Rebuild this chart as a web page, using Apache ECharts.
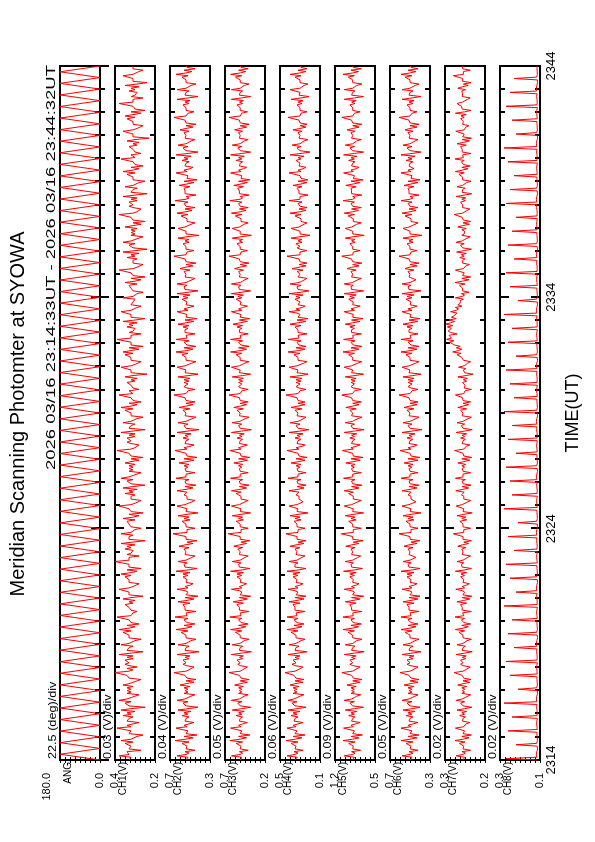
<!DOCTYPE html>
<html>
<head>
<meta charset="utf-8">
<script src="https://cdn.jsdelivr.net/npm/echarts@6/dist/echarts.min.js"></script>
<style>
html,body{margin:0;padding:0;background:#fff;overflow:hidden;}
#wrap{position:absolute;left:0;top:0;width:595px;height:842px;overflow:hidden;background:#fff;}
#chart{position:absolute;left:0;top:0;width:842px;height:595px;transform-origin:0 0;transform:translateY(842px) rotate(-90deg);}
</style>
</head>
<body>
<div id="wrap"><div id="chart"></div></div>
<script>
// ---------- data ----------
const titleText = 'Meridian Scanning Photomter at SYOWA';
const headerText = '2026 03/16 23:14:33UT - 2026 03/16 23:44:32UT';
const timeAxisName = 'TIME(UT)';
const timeLabels = ['2314', '2324', '2334', '2344'];   // HHMM at 0,10,20,30 min after 23:14 UT
const timeStartMin = 0, timeEndMin = 30;
const chanStepMin = 0.06;  // channel sample spacing (minutes)
const angStepMin = 0.25;   // scan-angle turning points spacing (minutes)

const panelNames = ['ANG', 'CH1(V)', 'CH2(V)', 'CH3(V)', 'CH4(V)', 'CH5(V)', 'CH6(V)', 'CH7(V)', 'CH8(V)'];
const divTexts = ['22.5 (deg)/div', '0.03 (V)/div', '0.04 (V)/div', '0.05 (V)/div', '0.06 (V)/div', '0.09 (V)/div', '0.05 (V)/div', '0.02 (V)/div', '0.02 (V)/div'];
const axisMin = [0, 0.2, 0.3, 0.2, 0.1, 0.5, 0.3, 0.2, 0.1];
const axisMax = [180, 0.4, 0.7, 0.7, 0.5, 1.2, 0.7, 0.3, 0.3];
const topLabels = ['180.0', '0.4', '0.7', '0.7', '0.5', '1.2', '0.7', '0.3', '0.3'];
const bottomLabels = ['0.0', '0.2', '0.3', '0.2', '0.1', '0.5', '0.3', '0.2', '0.1'];

const ang = [
0,180,0,180,0,180,0,180,0,180,0,180,0,180,0,180,0,180,0,180,
0,180,0,180,0,180,0,180,0,180,0,180,0,180,0,180,0,180,0,180,
0,180,0,180,0,180,0,180,0,180,0,180,0,180,0,180,0,180,0,180,
0,180,0,180,0,180,0,180,0,180,0,180,0,180,0,180,0,180,0,180,
0,180,0,180,0,180,0,180,0,180,0,180,0,180,0,180,0,180,0,180,
0,180,0,180,0,180,0,180,0,180,0,180,0,180,0,180,0,180,0,180,0];

const ch1 = [
.33,.34,.32,.38,.33,.32,.34,.27,.33,.34,
.32,.33,.35,.31,.37,.32,.33,.29,.26,.33,
.34,.32,.33,.39,.32,.34,.31,.28,.34,.33,
.33,.31,.36,.32,.34,.30,.37,.32,.25,.33,
.33,.35,.32,.38,.34,.32,.30,.28,.34,.32,
.34,.32,.34,.31,.36,.33,.32,.29,.27,.33,
.32,.34,.33,.40,.33,.31,.34,.29,.33,.35,
.33,.32,.35,.31,.34,.31,.38,.32,.26,.34,
.34,.33,.31,.37,.33,.34,.30,.27,.33,.34,
.33,.34,.36,.32,.38,.33,.30,.34,.28,.32,
.32,.33,.34,.39,.32,.33,.31,.29,.32,.33,
.33,.32,.35,.31,.33,.30,.36,.32,.26,.33,
.34,.33,.32,.38,.33,.31,.31,.28,.33,.34,
.33,.34,.35,.32,.37,.32,.29,.34,.27,.33,
.32,.33,.34,.40,.33,.32,.33,.28,.34,.32,
.33,.31,.35,.32,.34,.30,.37,.31,.25,.33,
.32,.33,.31,.37,.32,.31,.30,.27,.32,.33,
.33,.32,.34,.30,.36,.31,.28,.33,.26,.32,
.31,.33,.32,.38,.32,.30,.31,.27,.32,.33,
.32,.30,.35,.31,.33,.29,.36,.31,.25,.32,
.32,.34,.31,.37,.33,.31,.29,.27,.33,.31,
.33,.31,.33,.30,.35,.32,.28,.32,.26,.32,
.31,.33,.32,.39,.32,.30,.31,.28,.32,.34,
.32,.31,.34,.30,.33,.30,.37,.31,.25,.33,
.33,.32,.30,.36,.32,.33,.29,.26,.32,.33,
.32,.33,.35,.31,.37,.32,.29,.33,.27,.31,
.31,.32,.33,.38,.31,.32,.33,.28,.31,.32,
.32,.31,.34,.30,.32,.29,.35,.31,.24,.32,
.33,.32,.31,.37,.32,.30,.30,.27,.32,.33,
.32,.33,.35,.31,.36,.32,.28,.33,.26,.32,
.31,.32,.33,.39,.32,.31,.32,.27,.33,.31,
.32,.30,.34,.31,.33,.29,.36,.30,.25,.32,
.33,.32,.31,.37,.32,.31,.29,.27,.32,.33,
.31,.32,.30,.36,.31,.30,.29,.26,.31,.32,
.32,.31,.33,.29,.35,.30,.27,.32,.25,.31,
.30,.32,.31,.38,.31,.29,.30,.26,.31,.32,
.31,.29,.34,.30,.32,.28,.36,.30,.24,.31,
.31,.33,.30,.36,.32,.30,.28,.26,.32,.30,
.32,.30,.32,.29,.35,.31,.27,.31,.25,.31,
.30,.32,.31,.38,.31,.29,.30,.27,.31,.33,
.31,.30,.33,.29,.32,.29,.36,.30,.24,.32,
.32,.31,.29,.35,.31,.32,.28,.25,.31,.32,
.31,.32,.34,.30,.36,.31,.28,.32,.26,.30,
.30,.31,.32,.37,.30,.31,.32,.27,.30,.31,
.31,.30,.33,.29,.31,.28,.34,.30,.23,.31,
.32,.31,.30,.36,.31,.29,.29,.26,.31,.32,
.31,.32,.34,.30,.35,.31,.27,.32,.25,.30,
.30,.31,.32,.38,.31,.30,.31,.26,.32,.30,
.31,.29,.33,.30,.32,.28,.35,.29,.24,.31,
.32,.31,.30,.36,.31,.30,.28,.26,.31,.32,.31];

const ch2 = [
.54,.56,.52,.63,.54,.51,.55,.45,.54,.56,
.53,.55,.58,.51,.65,.54,.47,.56,.43,.54,
.55,.52,.54,.64,.53,.56,.51,.46,.55,.53,
.54,.51,.58,.52,.56,.49,.62,.52,.42,.54,
.54,.57,.52,.63,.55,.52,.49,.45,.56,.52,
.55,.52,.56,.50,.60,.54,.46,.54,.44,.53,
.52,.55,.54,.66,.54,.51,.52,.46,.54,.57,
.54,.52,.57,.51,.55,.50,.63,.52,.41,.55,
.55,.54,.51,.62,.54,.56,.49,.44,.54,.56,
.54,.55,.59,.52,.64,.54,.48,.56,.45,.53,
.53,.56,.52,.65,.53,.52,.54,.44,.55,.54,
.55,.53,.57,.50,.62,.53,.46,.55,.42,.54,
.54,.52,.55,.63,.52,.55,.50,.47,.54,.53,
.53,.51,.57,.52,.57,.50,.64,.51,.43,.55,
.55,.56,.53,.62,.54,.52,.48,.45,.55,.53,
.54,.53,.56,.51,.61,.55,.47,.53,.43,.54,
.52,.54,.55,.67,.53,.52,.53,.45,.54,.56,
.54,.53,.58,.50,.56,.51,.62,.53,.42,.54,
.55,.53,.52,.63,.55,.55,.48,.45,.53,.55,
.53,.56,.58,.53,.63,.54,.47,.55,.44,.54,
.54,.55,.51,.64,.54,.52,.54,.45,.54,.55,
.55,.52,.56,.51,.61,.53,.46,.56,.43,.53,
.53,.54,.53,.65,.53,.56,.50,.46,.55,.54,
.54,.51,.57,.52,.55,.49,.63,.52,.41,.54,
.55,.56,.52,.62,.54,.51,.49,.44,.55,.53,
.54,.53,.57,.50,.61,.54,.47,.54,.45,.54,
.53,.55,.54,.66,.54,.52,.52,.45,.53,.56,
.54,.52,.56,.51,.56,.50,.62,.51,.42,.55,
.55,.54,.52,.63,.55,.55,.48,.44,.54,.55,
.54,.55,.58,.52,.64,.53,.47,.56,.44,.53,
.53,.56,.51,.64,.53,.52,.54,.45,.55,.54,
.55,.52,.57,.51,.62,.54,.46,.55,.43,.54,
.54,.53,.55,.63,.52,.56,.51,.46,.54,.53,
.53,.51,.58,.52,.57,.50,.63,.52,.42,.55,
.55,.56,.53,.63,.54,.51,.48,.45,.55,.53,
.54,.53,.56,.50,.60,.55,.47,.54,.44,.54,
.52,.55,.54,.66,.54,.52,.53,.46,.54,.56,
.54,.52,.57,.51,.55,.51,.62,.53,.41,.54,
.55,.54,.52,.62,.55,.55,.49,.45,.53,.55,
.53,.55,.59,.52,.63,.54,.48,.55,.45,.54,
.54,.56,.52,.65,.54,.51,.54,.44,.55,.54,
.55,.53,.56,.50,.61,.53,.46,.56,.43,.53,
.53,.52,.54,.64,.53,.56,.50,.47,.55,.54,
.54,.51,.58,.52,.56,.49,.64,.52,.42,.54,
.55,.57,.52,.62,.54,.52,.49,.45,.55,.53,
.54,.52,.56,.51,.60,.54,.47,.54,.44,.54,
.52,.55,.54,.66,.54,.52,.52,.46,.54,.56,
.54,.53,.57,.51,.55,.50,.63,.52,.42,.55,
.55,.54,.51,.63,.54,.56,.49,.44,.54,.55,
.54,.55,.58,.52,.64,.54,.48,.56,.45,.53,.54];

const ch3 = [
.51,.53,.49,.62,.51,.48,.52,.41,.51,.53,
.50,.52,.56,.48,.64,.51,.43,.53,.39,.51,
.52,.49,.51,.63,.50,.53,.48,.42,.52,.50,
.51,.48,.56,.49,.53,.46,.61,.49,.38,.51,
.51,.54,.49,.62,.52,.49,.46,.41,.53,.49,
.52,.49,.53,.47,.58,.51,.42,.51,.40,.50,
.49,.52,.51,.65,.51,.48,.49,.42,.51,.54,
.51,.49,.55,.48,.52,.47,.62,.49,.37,.52,
.52,.51,.48,.61,.51,.53,.46,.40,.51,.53,
.51,.52,.57,.49,.63,.51,.44,.53,.41,.50,
.50,.53,.49,.64,.50,.49,.51,.40,.52,.51,
.52,.50,.55,.47,.60,.50,.42,.52,.38,.51,
.51,.49,.52,.62,.49,.52,.47,.43,.51,.50,
.50,.48,.55,.49,.55,.47,.63,.48,.39,.52,
.52,.53,.50,.61,.51,.49,.45,.41,.52,.50,
.51,.50,.54,.48,.59,.52,.43,.50,.39,.51,
.49,.51,.52,.66,.50,.49,.50,.41,.51,.53,
.51,.50,.56,.47,.53,.48,.61,.50,.38,.51,
.52,.50,.49,.62,.52,.52,.45,.41,.50,.52,
.50,.53,.56,.50,.62,.51,.43,.52,.40,.51,
.51,.52,.48,.63,.51,.49,.51,.41,.51,.52,
.52,.49,.53,.48,.59,.50,.42,.53,.39,.50,
.50,.51,.50,.64,.50,.53,.47,.42,.52,.51,
.51,.48,.55,.49,.52,.46,.62,.49,.37,.51,
.52,.53,.49,.61,.51,.48,.46,.40,.52,.50,
.51,.50,.55,.47,.59,.51,.43,.51,.41,.51,
.50,.52,.51,.65,.51,.49,.49,.41,.50,.53,
.51,.49,.53,.48,.53,.47,.61,.48,.38,.52,
.52,.51,.49,.62,.52,.52,.45,.40,.51,.52,
.51,.52,.56,.49,.63,.50,.43,.53,.40,.50,
.50,.53,.48,.63,.50,.49,.51,.41,.52,.51,
.52,.49,.55,.48,.60,.51,.42,.52,.39,.51,
.51,.50,.52,.62,.49,.53,.48,.42,.51,.50,
.50,.48,.56,.49,.54,.47,.62,.49,.38,.52,
.52,.53,.50,.62,.51,.48,.45,.41,.52,.50,
.51,.50,.53,.47,.58,.52,.43,.51,.40,.51,
.49,.52,.51,.65,.51,.49,.50,.42,.51,.53,
.51,.49,.55,.48,.52,.48,.61,.50,.37,.51,
.52,.51,.49,.61,.52,.52,.46,.41,.50,.52,
.50,.52,.57,.49,.62,.51,.44,.52,.41,.51,
.51,.53,.49,.64,.51,.48,.51,.40,.52,.51,
.52,.50,.54,.47,.59,.50,.42,.53,.39,.50,
.50,.49,.51,.63,.50,.53,.47,.43,.52,.51,
.51,.48,.56,.49,.53,.46,.63,.49,.38,.51,
.52,.54,.49,.61,.51,.49,.46,.41,.52,.50,
.51,.49,.53,.48,.58,.51,.43,.51,.40,.51,
.49,.52,.51,.65,.51,.49,.49,.42,.51,.53,
.51,.50,.55,.48,.52,.47,.62,.49,.38,.52,
.52,.51,.48,.62,.51,.53,.46,.40,.51,.52,
.51,.52,.57,.49,.63,.51,.44,.53,.41,.50,.51];

const ch4 = [
.35,.37,.33,.43,.35,.32,.36,.27,.35,.37,
.34,.36,.39,.32,.44,.35,.28,.37,.25,.35,
.36,.33,.35,.43,.34,.37,.32,.27,.36,.34,
.35,.32,.39,.33,.37,.30,.42,.33,.24,.35,
.35,.38,.33,.42,.36,.33,.30,.26,.37,.33,
.36,.33,.37,.31,.40,.35,.27,.35,.26,.34,
.33,.36,.35,.45,.35,.32,.33,.27,.35,.38,
.34,.32,.37,.31,.35,.30,.42,.32,.23,.35,
.35,.34,.31,.41,.34,.36,.29,.25,.34,.36,
.34,.35,.39,.32,.43,.34,.28,.36,.26,.33,
.33,.36,.32,.43,.33,.32,.34,.25,.35,.34,
.35,.33,.37,.30,.41,.33,.26,.35,.24,.34,
.34,.32,.35,.42,.32,.35,.30,.27,.34,.33,
.33,.31,.37,.32,.37,.30,.43,.31,.24,.35,
.34,.35,.32,.41,.33,.31,.28,.25,.34,.32,
.33,.32,.35,.30,.40,.34,.26,.32,.24,.33,
.31,.33,.34,.44,.32,.31,.32,.25,.33,.35,
.33,.32,.36,.29,.35,.30,.40,.32,.22,.33,
.33,.32,.30,.41,.33,.33,.27,.25,.31,.33,
.31,.34,.36,.31,.41,.32,.26,.33,.24,.32,
.32,.33,.29,.42,.32,.30,.32,.24,.32,.33,
.33,.30,.34,.29,.39,.31,.25,.34,.23,.31,
.31,.32,.31,.43,.31,.34,.28,.25,.33,.32,
.32,.29,.35,.30,.33,.27,.41,.30,.21,.32,
.33,.34,.30,.40,.32,.29,.27,.24,.33,.31,
.32,.31,.35,.28,.39,.32,.25,.32,.25,.32,
.31,.33,.32,.44,.32,.30,.30,.24,.31,.34,
.32,.30,.34,.29,.34,.28,.40,.29,.22,.33,
.33,.32,.30,.41,.33,.33,.26,.23,.32,.33,
.32,.33,.36,.30,.42,.31,.25,.34,.24,.31,
.31,.33,.29,.42,.31,.30,.32,.23,.32,.32,
.32,.30,.35,.29,.40,.32,.24,.33,.22,.32,
.31,.30,.33,.41,.30,.34,.28,.25,.32,.31,
.30,.28,.35,.30,.34,.27,.41,.29,.21,.32,
.31,.33,.29,.40,.31,.28,.26,.23,.32,.30,
.30,.31,.33,.27,.38,.31,.24,.31,.23,.30,
.29,.31,.31,.43,.30,.29,.30,.23,.30,.33,
.30,.29,.34,.28,.32,.28,.39,.30,.20,.30,
.31,.30,.29,.39,.31,.31,.26,.23,.29,.31,
.29,.31,.35,.29,.40,.30,.24,.31,.23,.30,
.30,.32,.28,.41,.30,.28,.30,.22,.31,.30,
.31,.29,.33,.28,.37,.29,.23,.32,.22,.29,
.29,.30,.30,.41,.29,.32,.27,.24,.31,.30,
.30,.28,.34,.29,.32,.26,.40,.29,.20,.30,
.31,.33,.29,.38,.30,.29,.26,.22,.31,.29,
.30,.29,.32,.28,.37,.30,.24,.30,.23,.30,
.29,.31,.30,.42,.30,.29,.29,.23,.30,.32,
.30,.29,.33,.28,.32,.27,.39,.29,.21,.31,
.31,.30,.28,.40,.30,.31,.26,.22,.30,.31,
.30,.31,.35,.29,.40,.30,.24,.32,.23,.29,.30];

const ch5 = [
.89,.92,.86,1.04,.89,.85,.91,.75,.89,.92,
.88,.91,.96,.85,1.06,.89,.78,.92,.72,.89,
.91,.86,.89,1.05,.88,.92,.84,.76,.91,.88,
.89,.85,.96,.86,.92,.82,1.02,.86,.70,.89,
.89,.94,.86,1.04,.91,.86,.82,.75,.92,.86,
.91,.86,.92,.83,.99,.89,.76,.89,.73,.88,
.86,.91,.89,1.08,.89,.85,.86,.76,.89,.94,
.89,.86,.94,.85,.91,.83,1.04,.86,.69,.91,
.91,.89,.85,1.02,.89,.92,.82,.73,.89,.92,
.89,.91,.97,.86,1.06,.89,.79,.92,.74,.88,
.88,.92,.86,1.06,.88,.86,.89,.73,.91,.89,
.91,.88,.94,.83,1.02,.88,.76,.91,.70,.89,
.89,.86,.91,1.04,.86,.91,.83,.78,.89,.88,
.88,.85,.94,.86,.94,.83,1.05,.85,.72,.91,
.91,.92,.88,1.02,.89,.86,.80,.75,.91,.88,
.89,.88,.92,.85,1.01,.91,.78,.88,.71,.89,
.86,.89,.91,1.09,.88,.86,.88,.74,.89,.92,
.89,.88,.96,.83,.92,.85,1.02,.88,.70,.89,
.91,.88,.86,1.04,.91,.91,.80,.74,.88,.91,
.88,.92,.96,.88,1.04,.89,.78,.91,.73,.89,
.89,.91,.85,1.05,.89,.86,.89,.74,.89,.91,
.91,.86,.92,.85,1.01,.88,.76,.92,.71,.88,
.88,.89,.88,1.07,.88,.92,.83,.76,.91,.89,
.89,.85,.94,.86,.91,.82,1.04,.86,.69,.89,
.91,.92,.86,1.02,.89,.85,.82,.73,.91,.88,
.89,.88,.94,.83,1.01,.89,.78,.89,.74,.89,
.88,.91,.89,1.08,.89,.86,.86,.74,.88,.92,
.89,.86,.92,.85,.92,.83,1.02,.85,.70,.91,
.91,.89,.86,1.04,.91,.91,.80,.73,.89,.91,
.89,.91,.96,.86,1.06,.88,.78,.92,.73,.88,
.88,.92,.85,1.05,.88,.86,.89,.74,.91,.89,
.91,.86,.94,.85,1.02,.89,.76,.91,.71,.89,
.89,.88,.91,1.04,.86,.92,.84,.76,.89,.88,
.88,.85,.96,.86,.94,.83,1.04,.86,.70,.91,
.91,.92,.88,1.04,.89,.85,.80,.74,.91,.88,
.89,.88,.92,.83,.99,.91,.78,.89,.73,.89,
.86,.91,.89,1.08,.89,.86,.88,.76,.89,.92,
.89,.86,.94,.85,.91,.85,1.02,.88,.69,.89,
.91,.89,.86,1.02,.91,.91,.82,.74,.88,.91,
.88,.91,.97,.86,1.04,.89,.79,.91,.74,.89,
.89,.92,.86,1.06,.89,.85,.89,.73,.91,.89,
.91,.88,.92,.83,1.01,.88,.76,.92,.71,.88,
.88,.86,.89,1.05,.88,.92,.83,.78,.91,.89,
.89,.85,.96,.86,.92,.82,1.05,.86,.70,.89,
.91,.94,.86,1.02,.89,.86,.82,.74,.91,.88,
.89,.86,.92,.85,.99,.89,.78,.89,.73,.89,
.86,.91,.89,1.08,.89,.86,.86,.76,.89,.92,
.89,.88,.94,.85,.91,.83,1.04,.86,.70,.91,
.91,.89,.85,1.04,.89,.92,.82,.73,.89,.91,
.89,.91,.97,.86,1.06,.89,.79,.92,.74,.88,.89];

const ch6 = [
.50,.52,.48,.58,.50,.47,.51,.42,.50,.52,
.49,.51,.54,.47,.59,.50,.43,.52,.41,.50,
.51,.48,.50,.59,.49,.52,.47,.42,.51,.49,
.50,.47,.54,.48,.52,.45,.57,.48,.40,.50,
.50,.53,.48,.58,.51,.48,.45,.42,.52,.48,
.51,.48,.52,.46,.56,.50,.42,.50,.41,.49,
.48,.51,.50,.60,.50,.47,.48,.42,.50,.53,
.50,.48,.53,.47,.51,.46,.58,.48,.39,.51,
.51,.50,.47,.57,.50,.52,.45,.41,.50,.52,
.50,.51,.55,.48,.59,.50,.44,.52,.42,.49,
.49,.52,.48,.59,.49,.48,.50,.41,.51,.50,
.51,.49,.53,.46,.57,.49,.42,.51,.40,.50,
.50,.48,.51,.58,.48,.51,.46,.43,.50,.49,
.49,.47,.53,.48,.53,.46,.59,.47,.40,.51,
.51,.52,.49,.57,.50,.48,.44,.42,.51,.49,
.50,.49,.52,.47,.56,.51,.43,.49,.40,.50,
.48,.50,.51,.61,.49,.48,.49,.42,.50,.52,
.50,.49,.54,.46,.52,.47,.57,.49,.39,.50,
.51,.49,.48,.58,.51,.51,.44,.42,.49,.51,
.49,.52,.54,.49,.58,.50,.43,.51,.41,.50,
.50,.51,.47,.59,.50,.48,.50,.42,.50,.51,
.51,.48,.52,.47,.56,.49,.42,.52,.40,.49,
.49,.50,.49,.60,.49,.52,.46,.43,.51,.50,
.50,.47,.53,.48,.51,.45,.58,.48,.38,.50,
.51,.52,.48,.57,.50,.47,.45,.41,.51,.49,
.50,.49,.53,.46,.56,.50,.43,.50,.42,.50,
.49,.51,.50,.61,.50,.48,.48,.42,.49,.52,
.50,.48,.52,.47,.52,.46,.57,.47,.39,.51,
.51,.50,.48,.58,.51,.51,.44,.41,.50,.51,
.50,.51,.54,.48,.59,.49,.43,.52,.41,.49,
.49,.52,.47,.59,.49,.48,.50,.42,.51,.50,
.51,.48,.53,.47,.57,.50,.42,.51,.40,.50,
.50,.49,.51,.58,.48,.52,.47,.43,.50,.49,
.49,.47,.54,.48,.53,.46,.58,.48,.39,.51,
.51,.52,.49,.58,.50,.47,.44,.42,.51,.49,
.50,.49,.52,.46,.55,.51,.43,.50,.41,.50,
.48,.51,.50,.61,.50,.48,.49,.43,.50,.52,
.50,.48,.53,.47,.51,.47,.57,.49,.38,.50,
.51,.50,.48,.57,.51,.51,.45,.42,.49,.51,
.49,.51,.55,.48,.58,.50,.44,.51,.42,.50,
.50,.52,.48,.59,.50,.47,.50,.41,.51,.50,
.51,.49,.52,.46,.56,.49,.42,.52,.40,.49,
.49,.48,.50,.59,.49,.52,.46,.44,.51,.50,
.50,.47,.54,.48,.52,.45,.59,.48,.39,.50,
.51,.53,.48,.57,.50,.48,.45,.42,.51,.49,
.50,.48,.52,.47,.55,.50,.43,.50,.41,.50,
.48,.51,.50,.61,.50,.48,.48,.43,.50,.52,
.50,.49,.53,.47,.51,.46,.58,.48,.39,.51,
.51,.50,.47,.58,.50,.52,.45,.41,.50,.51,
.50,.51,.55,.48,.59,.50,.44,.52,.42,.49,.50];

const ch7 = [
.255,.259,.251,.272,.255,.249,.257,.236,.255,.259,
.253,.257,.264,.250,.275,.255,.240,.258,.234,.255,
.257,.251,.255,.274,.253,.258,.248,.238,.256,.253,
.255,.249,.263,.251,.258,.246,.270,.251,.233,.255,
.255,.261,.251,.272,.257,.250,.246,.236,.258,.251,
.257,.250,.258,.246,.268,.255,.238,.255,.235,.253,
.251,.257,.255,.277,.255,.249,.252,.237,.255,.261,
.255,.250,.261,.248,.257,.247,.272,.251,.232,.257,
.257,.255,.249,.270,.255,.258,.245,.234,.255,.258,
.255,.257,.265,.251,.274,.255,.242,.258,.236,.253,
.253,.259,.251,.275,.253,.250,.256,.234,.257,.255,
.257,.253,.261,.246,.270,.253,.238,.257,.233,.255,
.255,.251,.257,.273,.251,.257,.247,.239,.255,.253,
.253,.249,.261,.251,.260,.246,.274,.250,.234,.257,
.257,.259,.253,.270,.255,.250,.243,.236,.257,.253,
.255,.253,.258,.248,.268,.257,.241,.253,.234,.255,
.251,.255,.257,.279,.253,.250,.253,.236,.255,.259,
.255,.253,.263,.246,.258,.248,.270,.253,.232,.255,
.257,.253,.251,.272,.257,.257,.243,.236,.253,.257,
.253,.259,.263,.252,.273,.255,.241,.257,.235,.255,
.255,.257,.249,.274,.255,.250,.255,.236,.255,.257,
.257,.251,.258,.248,.268,.253,.238,.258,.233,.253,
.253,.255,.253,.276,.253,.258,.247,.238,.257,.255,
.255,.249,.261,.251,.257,.246,.272,.251,.232,.255,
.257,.259,.251,.270,.255,.249,.245,.234,.257,.253,
.255,.253,.261,.246,.268,.255,.241,.255,.236,.255,
.252,.256,.253,.274,.253,.249,.250,.234,.252,.256,
.250,.247,.256,.246,.254,.244,.268,.247,.230,.251,
.251,.254,.248,.266,.252,.250,.243,.236,.254,.256,
.258,.262,.270,.260,.281,.266,.258,.272,.262,.276,
.282,.288,.278,.296,.284,.280,.290,.270,.286,.292,
.288,.284,.294,.280,.298,.286,.276,.290,.272,.284,
.278,.282,.270,.286,.272,.266,.274,.258,.268,.262,
.258,.262,.254,.274,.257,.251,.259,.240,.256,.259,
.256,.259,.264,.250,.275,.256,.240,.258,.236,.256,
.257,.252,.256,.274,.254,.258,.248,.239,.256,.254,
.256,.250,.263,.252,.259,.247,.271,.252,.234,.256,
.256,.261,.252,.272,.257,.251,.246,.237,.258,.252,
.257,.251,.258,.247,.268,.256,.239,.255,.236,.254,
.252,.257,.256,.277,.256,.250,.253,.238,.256,.261,
.256,.251,.261,.249,.258,.248,.272,.252,.233,.257,
.257,.256,.250,.270,.256,.258,.246,.235,.256,.258,
.256,.257,.265,.252,.274,.256,.243,.258,.237,.254,
.254,.259,.252,.275,.254,.251,.256,.235,.257,.256,
.257,.254,.261,.247,.270,.254,.239,.257,.234,.256,
.256,.252,.257,.273,.252,.257,.248,.240,.256,.254,
.254,.250,.261,.252,.260,.247,.274,.251,.235,.257,
.257,.259,.254,.270,.256,.251,.244,.237,.257,.254,
.256,.254,.258,.249,.268,.257,.242,.254,.235,.256,
.252,.256,.257,.279,.254,.251,.254,.237,.256,.259,.256];

const ch8 = [
.115,.27,.116,.113,.118,.114,.116,.115,.112,.117,
.114,.22,.117,.115,.113,.116,.114,.117,.115,.113,
.116,.26,.114,.117,.115,.113,.117,.114,.116,.115,
.113,.24,.115,.116,.114,.117,.115,.113,.117,.114,
.115,.28,.116,.113,.118,.114,.116,.115,.112,.117,
.114,.21,.117,.115,.113,.116,.114,.117,.115,.113,
.116,.25,.114,.117,.115,.113,.117,.114,.116,.115,
.113,.27,.115,.116,.114,.117,.115,.113,.117,.114,
.115,.23,.116,.113,.118,.114,.116,.115,.112,.117,
.114,.26,.117,.115,.113,.116,.114,.117,.115,.113,
.116,.24,.114,.117,.115,.113,.117,.114,.116,.115,
.113,.28,.115,.116,.114,.117,.115,.113,.117,.114,
.115,.22,.116,.113,.118,.114,.116,.115,.112,.117,
.114,.25,.117,.115,.113,.116,.114,.117,.115,.113,
.116,.27,.114,.117,.115,.113,.117,.114,.116,.115,
.113,.23,.115,.116,.114,.117,.115,.113,.117,.114,
.115,.26,.116,.113,.118,.114,.116,.115,.112,.117,
.114,.21,.117,.115,.113,.116,.114,.117,.115,.113,
.116,.28,.114,.117,.115,.113,.117,.114,.116,.115,
.113,.24,.115,.116,.114,.117,.115,.113,.117,.114,
.115,.25,.116,.113,.118,.114,.116,.115,.112,.117,
.114,.27,.117,.115,.113,.116,.114,.117,.115,.113,
.116,.22,.114,.117,.115,.113,.117,.114,.116,.115,
.113,.26,.115,.116,.114,.117,.115,.113,.117,.114,
.115,.24,.116,.113,.118,.114,.116,.115,.112,.117,
.114,.28,.117,.115,.113,.116,.114,.117,.115,.113,
.116,.23,.114,.117,.115,.113,.117,.114,.116,.115,
.113,.25,.115,.116,.114,.117,.115,.113,.117,.114,
.115,.27,.116,.113,.118,.114,.116,.115,.112,.117,
.114,.22,.117,.115,.113,.116,.114,.117,.115,.113,
.116,.26,.114,.117,.115,.113,.117,.114,.116,.115,
.113,.24,.115,.116,.114,.117,.115,.113,.117,.114,
.115,.28,.116,.113,.118,.114,.116,.115,.112,.117,
.114,.21,.117,.115,.113,.116,.114,.117,.115,.113,
.116,.25,.114,.117,.115,.113,.117,.114,.116,.115,
.113,.27,.115,.116,.114,.117,.115,.113,.117,.114,
.115,.23,.116,.113,.118,.114,.116,.115,.112,.117,
.114,.26,.117,.115,.113,.116,.114,.117,.115,.113,
.116,.24,.114,.117,.115,.113,.117,.114,.116,.115,
.113,.22,.115,.116,.114,.117,.115,.113,.117,.114,
.115,.27,.116,.113,.118,.114,.116,.115,.112,.117,
.114,.25,.117,.115,.113,.116,.114,.117,.115,.113,
.116,.23,.114,.117,.115,.113,.117,.114,.116,.115,
.113,.26,.115,.116,.114,.117,.115,.113,.117,.114,
.115,.28,.116,.113,.118,.114,.116,.115,.112,.117,
.114,.22,.117,.115,.113,.116,.114,.117,.115,.113,
.116,.24,.114,.117,.115,.113,.117,.114,.116,.115,
.113,.27,.115,.116,.114,.117,.115,.113,.117,.114,
.115,.25,.116,.113,.118,.114,.116,.115,.112,.117,
.114,.23,.117,.115,.113,.116,.114,.117,.115,.113,.115];

const panelValues = [ang, ch1, ch2, ch3, ch4, ch5, ch6, ch7, ch8];
const panelSteps = [angStepMin, chanStepMin, chanStepMin, chanStepMin, chanStepMin, chanStepMin, chanStepMin, chanStepMin, chanStepMin];

// ---------- layout ----------
const W = 842, H = 595;
const gridLeft = 82, gridWidth = 694, gridTop0 = 60, gridPitch = 55, gridHeight = 40;
const FONT = '"Liberation Sans", Arial, Helvetica, sans-serif';
const RED = '#ff0000';
const headerSpan = 405;      // drawn length of the date line
const smallTextStretch = 1.15;

const measureCtx = document.createElement('canvas').getContext('2d');
function textWidth(t, size) { measureCtx.font = size + 'px ' + FONT; return measureCtx.measureText(t).width; }

const chart = echarts.init(document.getElementById('chart'), null, {renderer: 'canvas', width: W, height: H});

const grids = [], xAxes = [], yAxes = [], series = [], graphics = [];
const n = panelNames.length;

for (let i = 0; i < n; i++) {
  const top = gridTop0 + gridPitch * i;
  grids.push({left: gridLeft, top: top, width: gridWidth, height: gridHeight,
    show: true, borderColor: '#000', borderWidth: 2, backgroundColor: '#fff'});
  const isLast = i === n - 1;
  const xCommon = {
    type: 'value', gridIndex: i, min: timeStartMin, max: timeEndMin, interval: 10,
    axisLine: {show: false}, splitLine: {show: false},
    axisTick: {show: true, inside: true, length: 9, lineStyle: {color: '#000', width: 2}},
    minorTick: {show: true, splitNumber: 10, length: 5, lineStyle: {color: '#000', width: 2}}
  };
  xAxes.push(Object.assign({}, xCommon, {
    position: 'bottom',
    axisLabel: {show: isLast, margin: 5, fontSize: 13, color: '#000', fontFamily: FONT,
      formatter: v => timeLabels[Math.round((v - timeStartMin) / 10)] || ''},
    name: isLast ? timeAxisName : '', nameLocation: 'middle', nameGap: 24,
    nameTextStyle: {fontSize: 18, color: '#000', fontFamily: FONT}
  }));
  xAxes.push(Object.assign({}, xCommon, {position: 'top', axisLabel: {show: false}}));

  const mn = axisMin[i], mx = axisMax[i], itv = (mx - mn) / 8;
  const tl = topLabels[i], bl = bottomLabels[i];
  const raiseTop = i === 0;   // the angle panel's top label sits higher, beside its scale note
  yAxes.push({
    type: 'value', gridIndex: i, position: 'left', min: mn, max: mx, interval: itv,
    axisLine: {show: false}, splitLine: {show: false},
    axisTick: {show: true, inside: true, length: 3, lineStyle: {color: '#000', width: 1}},
    axisLabel: {show: true, margin: 13, fontSize: 11, color: '#000', fontFamily: FONT,
      showMinLabel: true, showMaxLabel: true,
      rich: {up: {fontSize: 11, color: '#000', fontFamily: FONT, padding: [0, 0, 26, 0]}},
      formatter: v => Math.abs(v - mx) < itv * 0.01 ? (raiseTop ? '{up|' + tl + '}' : tl)
                    : (Math.abs(v - mn) < itv * 0.01 ? bl : '')}
  });
  yAxes.push({
    type: 'value', gridIndex: i, position: 'right', min: mn, max: mx, interval: itv,
    axisLine: {show: false}, splitLine: {show: false},
    axisTick: {show: true, inside: true, length: 3, lineStyle: {color: '#000', width: 1}},
    axisLabel: {show: false}
  });

  const vals = panelValues[i], step = panelSteps[i];
  series.push({
    type: 'line', xAxisIndex: 2 * i, yAxisIndex: 2 * i,
    data: vals.map((v, k) => [timeStartMin + k * step, v]),
    showSymbol: false, symbol: 'none', clip: true, silent: true, sampling: null,
    lineStyle: {color: RED, width: 1}, animation: false
  });

  graphics.push({type: 'text', x: gridLeft + 1, y: top - 2, scaleX: smallTextStretch,
    style: {text: divTexts[i], fontSize: 11, fontFamily: FONT, fill: '#000', align: 'left', verticalAlign: 'bottom'}});
  graphics.push({type: 'text', x: gridLeft - 2, y: top + 8,
    style: {text: panelNames[i], fontSize: 10, fontFamily: FONT, fill: '#000', align: 'right', verticalAlign: 'middle'}});
}

graphics.push({type: 'text', x: W / 2 + 7, y: 18,
  style: {text: titleText, fontSize: 20, fontFamily: FONT, fill: '#000', align: 'center', verticalAlign: 'middle'}});
graphics.push({type: 'text', x: gridLeft + gridWidth + 1, y: gridTop0 - 2,
  scaleX: headerSpan / textWidth(headerText, 12),
  style: {text: headerText, fontSize: 12, fontFamily: FONT, fill: '#000', align: 'right', verticalAlign: 'bottom'}});

chart.setOption({
  animation: false,
  backgroundColor: '#fff',
  grid: grids, xAxis: xAxes, yAxis: yAxes, series: series,
  graphic: graphics
});
</script>
</body>
</html>
